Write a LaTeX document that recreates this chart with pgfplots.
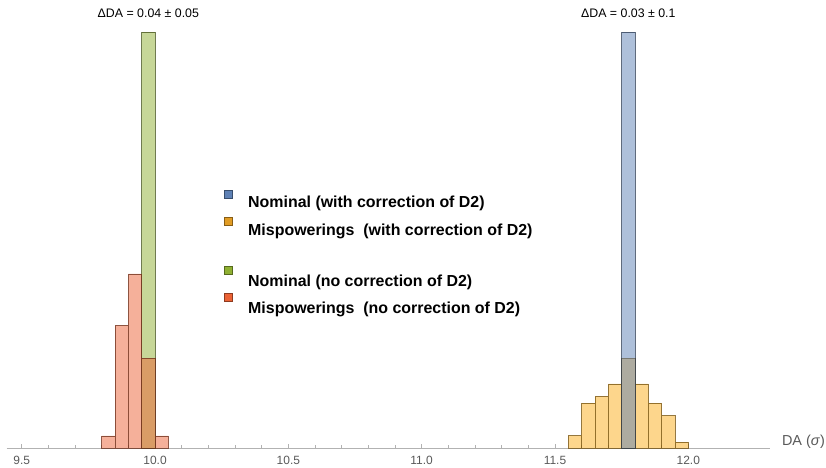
\documentclass[border=0pt]{standalone}
\usepackage{pgfplots}
\pgfplotsset{compat=1.18}
\usepackage{fontspec}
\setmainfont{Liberation Sans}

\definecolor{mblue}{rgb}{0.368417,0.506779,0.709798}
\definecolor{morange}{rgb}{0.880722,0.611041,0.142051}
\definecolor{mgreen}{rgb}{0.560181,0.691569,0.194885}
\definecolor{mred}{rgb}{0.922526,0.385626,0.209179}
\definecolor{mgold}{rgb}{0.984,0.678,0.098}

\pgfplotsset{
  hbar/.style={ybar, bar width=0.05, bar shift=0pt,
    fill=#1, fill opacity=0.5,
    draw=#1!45!black, draw opacity=0.75, line width=0.5bp},
}

\begin{document}
\begin{tikzpicture}[x=1bp,y=1bp]
\path[use as bounding box] (0,0) rectangle (826,468);
\begin{axis}[
  at={(6.7bp,20bp)}, anchor=south west,
  scale only axis, width=763.3bp, height=415.7bp,
  xmin=9.4438, xmax=12.3063, ymin=0, ymax=1,
  axis x line=bottom, axis y line=none,
  axis line style={-, draw=black!30, line width=0.6bp},
  xtick={9.5,10,10.5,11,11.5,12},
  minor x tick num=4,
  tick align=inside,
  major tick length=4bp, minor tick length=2.5bp,
  every tick/.style={draw=black!30, line width=0.5bp},
  xticklabel style={font=\fontsize{12}{14}\selectfont, text=black!65, yshift=-4.5bp},
  /pgf/number format/.cd, fixed, fixed zerofill, precision=1, assume math mode=true,
  /pgfplots/.cd,
  clip=false,
]
% mispowerings, with correction of D2
\addplot[hbar=mgold] coordinates {
  (11.575,0.030) (11.625,0.108) (11.675,0.124) (11.725,0.154) (11.775,0.216)
  (11.825,0.154) (11.875,0.108) (11.925,0.078) (11.975,0.014)};
% nominal, with correction of D2
\addplot[hbar=mblue] coordinates {(11.775,1)};
% nominal, no correction of D2
\addplot[hbar=mgreen] coordinates {(9.975,1)};
% mispowerings, no correction of D2
\addplot[hbar=mred] coordinates {
  (9.825,0.029) (9.875,0.295) (9.925,0.419) (9.975,0.216) (10.025,0.029)};

\node[font=\fontsize{12.4}{14}\selectfont] at (axis cs:9.975,1) [yshift=19bp] {ΔDA = 0.04 ± 0.05};
\node[font=\fontsize{12.4}{14}\selectfont] at (axis cs:11.775,1) [yshift=19bp] {ΔDA = 0.03 ± 0.1};
\node[anchor=west, font=\fontsize{14.5}{16}\selectfont, text=black!65] at (rel axis cs:1,0) [xshift=8.5bp, yshift=6bp] {DA (\textit{σ})};
\end{axis}

% legend
\begin{scope}[every node/.style={anchor=west, font=\bfseries\fontsize{16}{19}\selectfont, inner sep=0pt}]
  \foreach \c/\ys/\yt/\t in {
      mblue/274/265/{Nominal (with correction of D2)},
      morange/247.2/237/{Mispowerings\ \ (with correction of D2)},
      mgreen/198/186/{Nominal (no correction of D2)},
      mred/170.5/159/{Mispowerings\ \ (no correction of D2)}} {
    \filldraw[fill=\c, draw=\c!60!black, line width=0.5bp] (224,\ys-4) rectangle (232,\ys+4);
    \node at (248,\yt) {\t};
  }
\end{scope}
\end{tikzpicture}
\end{document}
